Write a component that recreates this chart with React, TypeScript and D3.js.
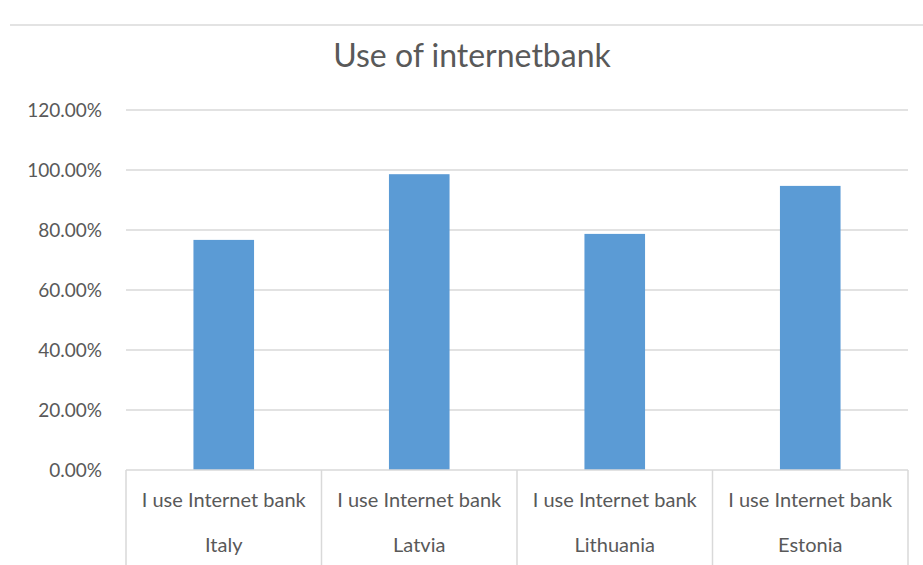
import React from "react";
import * as d3 from "d3";

const countries = ["Italy", "Latvia", "Lithuania", "Estonia"];
const seriesLabel = "I use Internet bank";
const values = [0.767, 0.986, 0.787, 0.947];
const yTicks = [0, 0.2, 0.4, 0.6, 0.8, 1.0, 1.2];
const title = "Use of internetbank";

const W = 923;
const H = 565;
const left = 126;
const right = 908;
const top = 110;
const bottom = 470;
const FONT = "Lato, 'Open Sans', sans-serif";
const TEXT = "#595959";

export default function App() {
  const x = d3.scaleBand<string>().domain(countries).range([left, right]).padding(0);
  const y = d3.scaleLinear().domain([0, 1.2]).range([bottom, top]);
  const fmt = d3.format(".2%");
  const barW = x.bandwidth() * 0.31;
  const bounds = [...countries.map((c) => x(c) as number), right];

  return (
    <svg width={W} height={H} style={{ position: "absolute", left: 0, top: 0, background: "#fff" }}>
      <line x1={10} x2={W} y1={25} y2={25} stroke="#e3e3e3" strokeWidth={2} />
      <text x={472} y={67} textAnchor="middle" fontFamily={FONT} fontSize={32} fill={TEXT}>
        {title}
      </text>
      {yTicks.map((t) => (
        <g key={t}>
          {t > 0 && (
            <line x1={left} x2={right} y1={y(t)} y2={y(t)} stroke="#d9d9d9" strokeWidth={1.5} />
          )}
          <text x={102} y={y(t) + 7} textAnchor="end" fontFamily={FONT} fontSize={19} fill={TEXT}>
            {fmt(t)}
          </text>
        </g>
      ))}
      {countries.map((c, i) => (
        <rect
          key={c}
          x={(x(c) as number) + x.bandwidth() / 2 - barW / 2}
          y={y(values[i])}
          width={barW}
          height={y(0) - y(values[i])}
          fill="#5b9bd5"
        />
      ))}
      <line x1={left} x2={right} y1={bottom} y2={bottom} stroke="#d9d9d9" strokeWidth={1.5} />
      {bounds.map((b, i) => (
        <line key={i} x1={b} x2={b} y1={bottom} y2={H} stroke="#d9d9d9" strokeWidth={1.5} />
      ))}
      {countries.map((c) => (
        <g key={c}>
          <text
            x={(x(c) as number) + x.bandwidth() / 2}
            y={507}
            textAnchor="middle"
            fontFamily={FONT}
            fontSize={20}
            fill={TEXT}
          >
            {seriesLabel}
          </text>
          <text
            x={(x(c) as number) + x.bandwidth() / 2}
            y={552}
            textAnchor="middle"
            fontFamily={FONT}
            fontSize={20}
            fill={TEXT}
          >
            {c}
          </text>
        </g>
      ))}
    </svg>
  );
}
